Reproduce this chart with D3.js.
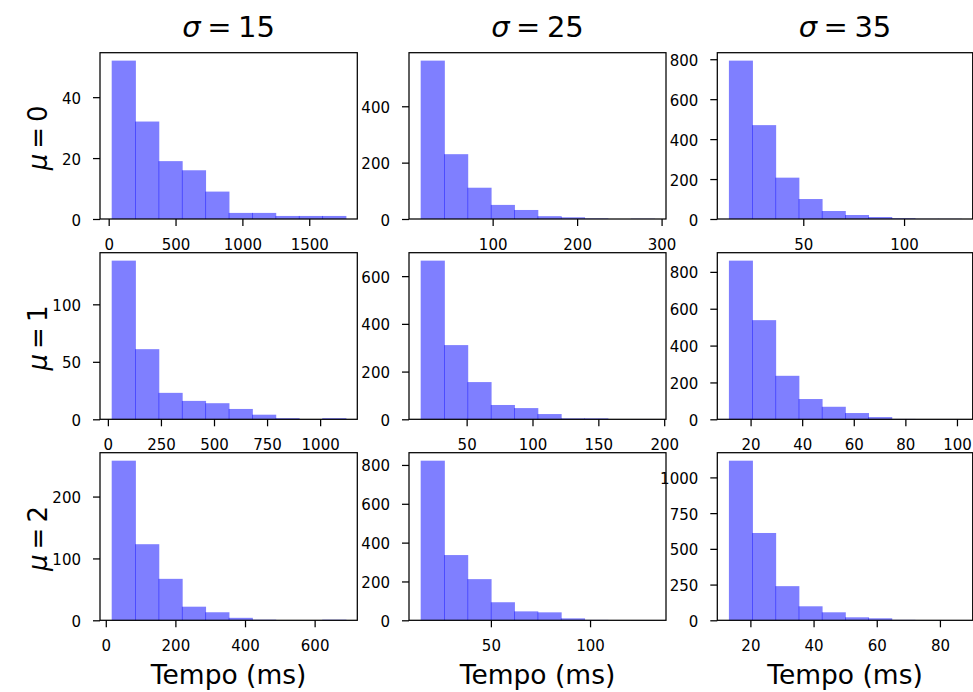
<!DOCTYPE html>
<html>
<head>
<meta charset="utf-8">
<title>histogramas tempo</title>
<script src="https://cdn.jsdelivr.net/npm/d3@7"></script>
<style>
  body{margin:0;background:#fff;}
  svg{display:block;font-family:"DejaVu Sans",sans-serif;}
  .ax{font-family:"DejaVu Sans",sans-serif;}
  .ax text{font-size:15px;fill:#000;}
  .ax .tick line{stroke:#000;stroke-width:1.25;}
  .ax .domain{display:none;}
</style>
</head>
<body>
<div id="container"></div>
<script>
// colunas = sigma, linhas = mu
var sigmas = [15, 25, 35];
var mus = [0, 1, 2];

// [min, max] dos tempos em cada painel (10 bins iguais), ordem linha por linha
var binRanges = [
  [22.5, 1772], [14.8, 291.4], [13.1, 128.3],
  [18, 1120],   [15.1, 192.5], [11.6, 101.6],
  [17, 689],    [14.6, 132.4], [13.2, 86.7]
];

var counts = [
  [52, 32, 19, 16, 9, 2, 2, 1, 1, 1],
  [562, 230, 111, 50, 32, 10, 6, 2, 0, 1],
  [793, 470, 207, 100, 40, 20, 10, 4, 1, 1],
  [138, 61, 23, 16, 14, 9, 4, 1, 0, 1],
  [665, 311, 156, 60, 47, 22, 4, 4, 0, 1],
  [861, 538, 236, 110, 68, 34, 12, 2, 1, 1],
  [258, 123, 67, 22, 13, 4, 1, 0, 0, 1],
  [822, 336, 212, 93, 46, 41, 10, 2, 0, 1],
  [1117, 611, 239, 98, 56, 21, 14, 3, 1, 1]
];

var xTicks = [
  [0, 500, 1000, 1500], [100, 200, 300], [50, 100],
  [0, 250, 500, 750, 1000], [50, 100, 150, 200], [20, 40, 60, 80, 100],
  [0, 200, 400, 600], [50, 100], [20, 40, 60, 80]
];

var yTicks = [
  [0, 20, 40], [0, 200, 400], [0, 200, 400, 600, 800],
  [0, 50, 100], [0, 200, 400, 600], [0, 200, 400, 600, 800],
  [0, 100, 200], [0, 200, 400, 600, 800], [0, 250, 500, 750, 1000]
];

var xLabel = "Tempo (ms)";

var W = 973, H = 692;
var colLeft = [100, 409, 717.3], colRight = [357.3, 666, 972.7];
var rowTop = [52.7, 252.7, 452.7], rowBottom = [219, 419.3, 620.3];

var svg = d3.select("#container").append("svg")
    .attr("width", W)
    .attr("height", H);

var fmt = d3.format("d");

for (var r = 0; r < 3; r++) {
  for (var c = 0; c < 3; c++) {
    var k = r * 3 + c;
    var w = colRight[c] - colLeft[c], h = rowBottom[r] - rowTop[r];
    var lo = binRanges[k][0], hi = binRanges[k][1], span = hi - lo;
    var cnt = counts[k];
    var bins = cnt.map(function(v, i){
      return {x0: lo + span * i / cnt.length, x1: lo + span * (i + 1) / cnt.length, n: v};
    });

    var x = d3.scaleLinear().domain([lo - 0.05 * span, hi + 0.05 * span]).range([0, w]);
    var y = d3.scaleLinear().domain([0, d3.max(cnt) * 1.05]).range([h, 0]);

    var g = svg.append("g")
        .attr("transform", "translate(" + colLeft[c] + "," + rowTop[r] + ")");

    g.selectAll("rect.bar")
      .data(bins.filter(function(d){ return d.n > 0; }))
      .enter().append("rect")
        .attr("class", "bar")
        .attr("x", function(d){ return x(d.x0); })
        .attr("width", function(d){ return x(d.x1) - x(d.x0) + 0.8; })
        .attr("y", function(d){ return y(d.n); })
        .attr("height", function(d){ return h - y(d.n); })
        .attr("fill", "#0000ff")
        .attr("fill-opacity", 0.5);

    g.append("g")
        .attr("class", "ax")
        .attr("transform", "translate(0," + h + ")")
        .call(d3.axisBottom(x).tickValues(xTicks[k]).tickFormat(fmt).tickSize(7).tickPadding(13.5));

    g.append("g")
        .attr("class", "ax")
        .call(d3.axisLeft(y).tickValues(yTicks[k]).tickFormat(fmt).tickSize(7).tickPadding(12))
      .selectAll("text").attr("dy", "0.4em");

    g.append("rect")
        .attr("width", w).attr("height", h)
        .attr("fill", "none")
        .attr("stroke", "#000")
        .attr("stroke-width", 1.25);
  }
}

// texto tipo mathtext: variavel em italico, espacos finos em volta do "="
function mathLabel(sel, sym, val, gap){
  sel.append("tspan").style("font-style", "italic").text(sym);
  sel.append("tspan").attr("dx", gap).text("=");
  sel.append("tspan").attr("dx", gap).text(val);
}

// titulos das colunas
sigmas.forEach(function(s, c){
  var t = svg.append("text")
      .attr("x", (colLeft[c] + colRight[c]) / 2)
      .attr("y", 37)
      .attr("text-anchor", "middle")
      .style("font-size", "29px");
  mathLabel(t, "σ", s, 6.5);
});

// rotulos das linhas
mus.forEach(function(m, r){
  var cy = (rowTop[r] + rowBottom[r]) / 2;
  var t = svg.append("text")
      .attr("transform", "translate(47," + (cy + 2) + ") rotate(-90)")
      .attr("text-anchor", "middle")
      .style("font-size", "26px");
  mathLabel(t, "μ", m, 5);
});

// eixo x inferior
for (var c = 0; c < 3; c++) {
  svg.append("text")
    .attr("x", (colLeft[c] + colRight[c]) / 2)
    .attr("y", 684)
    .attr("text-anchor", "middle")
    .style("font-size", "26.5px")
    .text(xLabel);
}
</script>
</body>
</html>
